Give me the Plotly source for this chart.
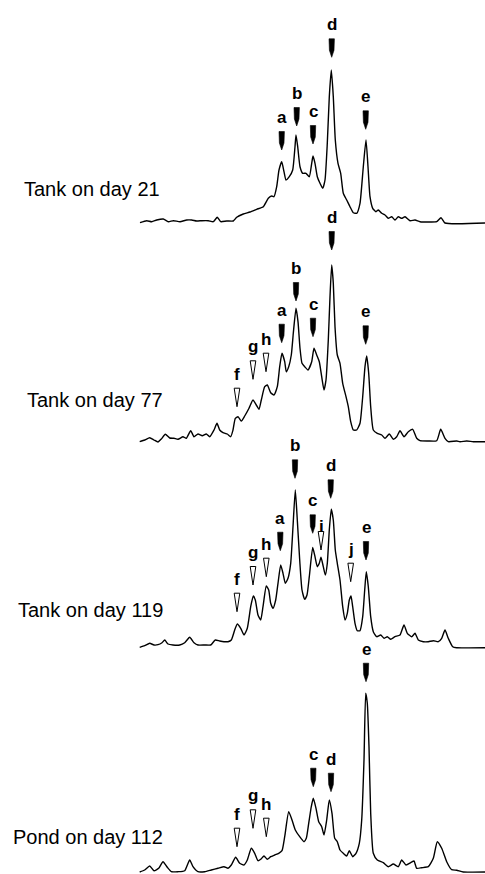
import plotly.graph_objects as go

# ------------------------------------------------------------------ data
samples = ["Tank on day 21", "Tank on day 77", "Tank on day 119", "Pond on day 112"]

# migration position (gel x, px units) and band intensity (px units above baseline)
pos_d21 = [140, 146.7, 151.7, 156.7, 163.3, 168.3, 173.3, 180, 186.7, 191.7, 196.7, 201.7, 208.3,
           213.3, 217.3, 220.7, 226.7, 233.3, 236.7, 243.3, 250, 256.7, 263.3, 268.3, 271.7, 274,
           276.7, 279, 281.7, 284, 286, 289.3, 292.7, 295, 296, 297.7, 300, 302.7, 306, 309.3,
           311.7, 313, 315, 317.3, 320, 322.7, 325, 327.3, 329.3, 331.3, 333.3, 335.3, 338, 340.7,
           343.3, 346.7, 350, 353.3, 356.7, 360, 363.3, 366, 368, 370, 372.7, 376, 378.3, 381.7,
           385, 388.3, 391.7, 395, 398.3, 401.7, 405, 410, 415, 420, 430, 436.7, 441, 445, 485]
int_d21 = [0.3, 2.3, 1.3, 3, 4, 1.3, 2.3, 1.3, 3, 3, 2, 2.3, 2.3,
           1.3, 5.7, 1.3, 2, 2, 5.7, 9, 11, 13.7, 16.3, 24.7, 27, 26.3,
           36.3, 53, 61.3, 51.3, 43, 46.3, 53, 76.3, 88, 76.3, 56.3, 49.7, 49.7, 46.3,
           59.7, 67, 59.7, 46.3, 39.7, 34.7, 43, 79.7, 126.3, 153, 126.3, 83, 59.7, 49.7,
           29.7, 23, 16.3, 10.3, 9.7, 19.7, 56.3, 83, 56.3, 26.3, 14.7, 11.3, 13, 9.7,
           8, 4.7, 6.3, 3, 6.3, 4.7, 6.3, 2.3, 3, 1.3, 1, 1.3, 5.3, 0, 0]

pos_d77 = [139.7, 144.7, 149.7, 154, 158, 161.3, 165.3, 169.7, 174, 178, 183, 186.3, 190.7, 194,
           198, 202.3, 206.3, 209.7, 214, 217, 219.7, 223, 227.3, 230.7, 233, 235.3, 238, 241.3,
           244.7, 249, 253, 256.3, 259, 261.3, 264.7, 267.3, 270.7, 274, 277.3, 279.7, 282, 284.7,
           286.3, 288.7, 291.3, 293.3, 296, 298, 300, 302, 304.7, 308,
           311.7, 314, 316.7, 319.3, 321.7, 324, 326, 328.3, 330, 331.7, 333.3, 335, 337.3, 340,
           342.7, 346, 348.3, 350.7, 353.3, 356.7, 360, 362.7, 365, 366.7, 368.7, 370.7, 373.3,
           377.3, 381.7, 385, 389.3, 393.3, 396.7, 400, 404, 408.3, 412.7, 416.7, 420, 428.3,
           436.7, 440.7, 445, 448.3, 456.7, 460, 466.7, 473.3, 485]
int_d77 = [0.3, 2, 4.3, 2, 0, 3, 7.7, 4, 3.7, 2.7, 5.3, 3.7, 11.3, 5.3,
           8, 6.3, 8, 5.3, 12, 18.7, 12, 9.3, 8, 5.3, 12, 23.7, 25.3, 21,
           26, 33.7, 42, 37, 32.7, 42, 55.3, 57, 49.3, 47, 55.3, 75.3, 88.7, 80.3,
           70.3, 75.3, 87, 108.7, 133.7, 120.3, 93.7, 78.7, 75.3, 72,
           80.3, 93.7, 87, 80.3, 65.3, 52, 62, 102, 145.3, 177, 158.7, 115.3, 87, 78.7,
           58.7, 45.3, 35.3, 20.3, 12, 12, 18.7, 45.3, 75.3, 86, 68.7, 35.3, 12,
           8.7, 7, 3.7, 8, 2.7, 5.3, 11.3, 5.3, 10.3, 12.7, 3.7, 1.3, 1,
           1.3, 12.7, 3.7, 0.3, 1, 0.3, 1, 0.3, 0.3]

pos_d119 = [139.7, 144.7, 149.7, 154, 158, 162, 164.7, 168, 173, 179.7, 184.7, 189.7, 194, 198,
            204.7, 210.7, 215.3, 219.7, 224, 228, 231.3, 234.7, 237.3, 240.7, 244, 247.3, 250.7,
            253.3, 255.3, 258, 260.7, 263, 266.3, 268.7, 270.7, 273, 275.7, 278, 280.7, 283,
            285.3, 288, 290.7, 293, 295.3, 297.3, 299.7, 302, 304.7, 307, 309.3,
            312.7, 315, 317.3, 319.3, 321, 323.3, 325.3, 327.3, 329.3, 331.3, 333.3, 335.3, 337.3,
            340, 342.7, 345, 347.3, 349.3, 351, 352.7, 355, 357.3, 360, 362.7, 364.7, 366.3,
            368.3, 370.7, 373.3, 376.7, 380.7, 384, 387.3, 390.7, 395, 400, 404, 407.3, 411.7,
            415, 418.3, 423.3, 428.3, 433.3, 438.3, 441.7, 445, 448.3, 452.7, 456.7, 485]
int_d119 = [0.7, 2.3, 4.7, 3, 3.3, 5.3, 8, 4, 3, 3, 5.3, 10.7, 5.3, 3,
            3, 3, 8, 7, 6.3, 6.3, 8, 18, 24, 19.7, 13, 19.7, 41.3,
            52, 48, 33, 28, 41.3, 62, 58, 44.7, 39.7, 48, 64.7, 83, 74.7,
            64.7, 69.7, 84.7, 121.3, 158, 128, 88, 58, 48.7, 53, 71.3,
            100.5, 91.3, 81.3, 84.7, 90.7, 81.3, 73, 84.7, 118, 138.7, 128, 98, 84.7,
            68, 41.3, 28, 34.7, 48, 52, 41.3, 24.7, 17.3, 17.3, 31.3, 58, 76.3,
            61.3, 31.3, 16.3, 11.3, 13, 9.7, 11.3, 8.7, 11.3, 13, 23, 14.7, 11.3,
            14.7, 8, 6.3, 6.3, 7.3, 6.3, 9.7, 18, 9.7, 1.3, 0.3, 0.3]

pos_p112 = [139.7, 144.7, 149.7, 154, 158.7, 163, 167.3, 171.3, 178, 184.7, 189.7, 193, 198, 204.7,
            211.3, 218, 224, 228, 231.3, 235.7, 239.7, 244, 247.3, 251.3, 254.7, 258, 260.7, 264,
            267.3, 270.7, 274.7, 278.7, 282, 284.7, 288.7, 292, 295.3, 299.7, 304, 306.3, 308.7,
            311.3, 313.3,
            316, 318.7, 321.7, 324, 326.7, 329.3, 332, 334.7, 337.3, 340, 343.3, 346.7, 349.3,
            352.7, 356, 359.3, 361.7, 364, 365.7, 367.3, 369, 370.7, 373.3, 377.3, 383.3, 388.3,
            393.3, 398.3, 401.7, 406, 410.7, 414, 416.7, 421.7, 428.3, 433.3, 437.3, 441.7, 446.7,
            451.7, 456.7, 463.3, 485]
int_p112 = [0, 2, 6, 1.3, 3.7, 10.3, 4.7, 0.3, 0.3, 1.3, 12, 5.3, 0.3, 0.3,
            2, 3.7, 5.3, 3.7, 7, 14.7, 8.7, 7, 12, 23.7, 18.7, 11.3, 12.7, 16,
            12.7, 15.3, 17, 18.7, 21.3, 35.3, 60.3, 52, 42, 35.3, 30.3, 33.7, 48.7,
            65.3, 73.7,
            63.7, 50.3, 45.3, 37, 52, 72, 58.7, 33.7, 30.3, 22, 18.7, 16, 21.3,
            15.3, 18.7, 28.7, 52, 112, 178.7, 168.7, 125.3, 58.7, 18.7, 12, 9.3, 5.3,
            8, 5.3, 12, 7, 9.3, 11, 3.7, 4.3, 5.3, 13.7, 30.3, 23.7, 10.3,
            2.3, 1.7, 0, 0]

# band markers: label, migration position, arrow-tip height, open (True) / filled (False)
bands_d21 = ["a", "b", "c", "d", "e"]
band_pos_d21 = [281.7, 296.7, 313, 331.7, 365.7]
band_tip_d21 = [73, 97, 79, 165.7, 93.7]
band_open_d21 = [False, False, False, False, False]

bands_d77 = ["f", "g", "h", "a", "b", "c", "d", "e"]
band_pos_d77 = [237, 253, 266, 281.7, 296, 313, 331.7, 365.7]
band_tip_d77 = [35.3, 62.7, 70.3, 99.3, 141, 105.3, 192, 97.7]
band_open_d77 = [True, True, True, False, False, False, False, False]

bands_d119 = ["f", "g", "h", "a", "b", "c", "i", "d", "j", "e"]
band_pos_d119 = [237, 253, 266.3, 280.3, 295, 312.7, 321, 330.7, 350.7, 366]
band_tip_d119 = [36.3, 63, 71.3, 97.3, 169.7, 114.7, 98, 149.7, 66.3, 88]
band_open_d119 = [True, True, True, False, False, False, True, False, True, False]

bands_p112 = ["f", "g", "h", "c", "d", "e"]
band_pos_p112 = [237, 253, 266.3, 313.3, 331, 366]
band_tip_p112 = [25.3, 43.7, 35.3, 85.3, 80.3, 190.3]
band_open_p112 = [True, True, True, False, False, False]

# ------------------------------------------------------------------ style / layout
W, H = 485, 874
PANEL_TOP = [0, 190, 410, 620]          # px from top of page (panels may overlap)
PANEL_BASE = [223, 442, 648, 872]       # baseline px from top
PANEL_PAD = [3, 3, 3, 2]
SAMPLE_LABEL_RIGHT = [162, 165, 165, 165]
SAMPLE_LABEL_H = [34.3, 42, 37.7, 35]
ARROW_LEN = 18.5
ARROW_HALF = 2.7
LABEL_GAP = 32.5
LABEL_GAP_SPECIAL = {(2, "i"): 23.5}
LINE_W = 1.4
FONT = "Liberation Sans, Arial, Helvetica, sans-serif"

panels = [
    (pos_d21, int_d21, bands_d21, band_pos_d21, band_tip_d21, band_open_d21),
    (pos_d77, int_d77, bands_d77, band_pos_d77, band_tip_d77, band_open_d77),
    (pos_d119, int_d119, bands_d119, band_pos_d119, band_tip_d119, band_open_d119),
    (pos_p112, int_p112, bands_p112, band_pos_p112, band_tip_p112, band_open_p112),
]

fig = go.Figure()
annotations = []
layout_axes = {}

for i, (px, py, bl, bx, bt, bo) in enumerate(panels):
    assert len(px) == len(py), (i, len(px), len(py))
    yname = "y" if i == 0 else f"y{i + 1}"
    axkey = "yaxis" if i == 0 else f"yaxis{i + 1}"
    top, base, pad = PANEL_TOP[i], PANEL_BASE[i], PANEL_PAD[i]
    d0 = (H - (base + pad)) / H
    d1 = (H - top) / H
    layout_axes[axkey] = dict(domain=[max(0, d0), min(1, d1)], range=[-pad, base - top],
                              visible=False, fixedrange=True, anchor="x")

    fig.add_trace(go.Scatter(x=px, y=py, mode="lines", xaxis="x", yaxis=yname,
                             line=dict(color="black", width=LINE_W, shape="spline",
                                       smoothing=0.5),
                             hoverinfo="skip", showlegend=False))

    for lab, x, t, op in zip(bl, bx, bt, bo):
        if op:
            xs = [x - ARROW_HALF - 0.1, x + ARROW_HALF + 0.1, x, x - ARROW_HALF - 0.1]
            ys = [t + ARROW_LEN, t + ARROW_LEN, t, t + ARROW_LEN]
            fill_c, lw = "white", 1.0
        else:
            xs = [x - ARROW_HALF, x + ARROW_HALF, x + ARROW_HALF * 0.85, x,
                  x - ARROW_HALF * 0.85, x - ARROW_HALF]
            ys = [t + ARROW_LEN, t + ARROW_LEN, t + 7, t, t + 7, t + ARROW_LEN]
            fill_c, lw = "black", 0.6
        fig.add_trace(go.Scatter(x=xs, y=ys, mode="lines", fill="toself", fillcolor=fill_c,
                                 line=dict(color="black", width=lw), xaxis="x", yaxis=yname,
                                 hoverinfo="skip", showlegend=False))
        gap = LABEL_GAP_SPECIAL.get((i, lab), LABEL_GAP)
        annotations.append(dict(x=x, y=t + gap, xref="x", yref=yname, text=lab,
                                showarrow=False, xanchor="center", yanchor="middle",
                                font=dict(family=FONT, size=17, color="black", weight="bold")))

    annotations.append(dict(x=SAMPLE_LABEL_RIGHT[i], y=SAMPLE_LABEL_H[i], xref="x", yref=yname,
                            text=samples[i], showarrow=False, xanchor="right", yanchor="middle",
                            font=dict(family=FONT, size=20, color="black")))

fig.update_layout(
    width=W, height=H,
    margin=dict(l=0, r=0, t=0, b=0),
    paper_bgcolor="white", plot_bgcolor="rgba(0,0,0,0)",
    xaxis=dict(range=[0, W], visible=False, fixedrange=True, domain=[0, 1]),
    annotations=annotations,
    showlegend=False,
    **layout_axes,
)

fig.write_html("out.html", config={"displayModeBar": False},
               post_script="document.body.style.margin='0px';"
                           "document.body.style.overflow='hidden';")
